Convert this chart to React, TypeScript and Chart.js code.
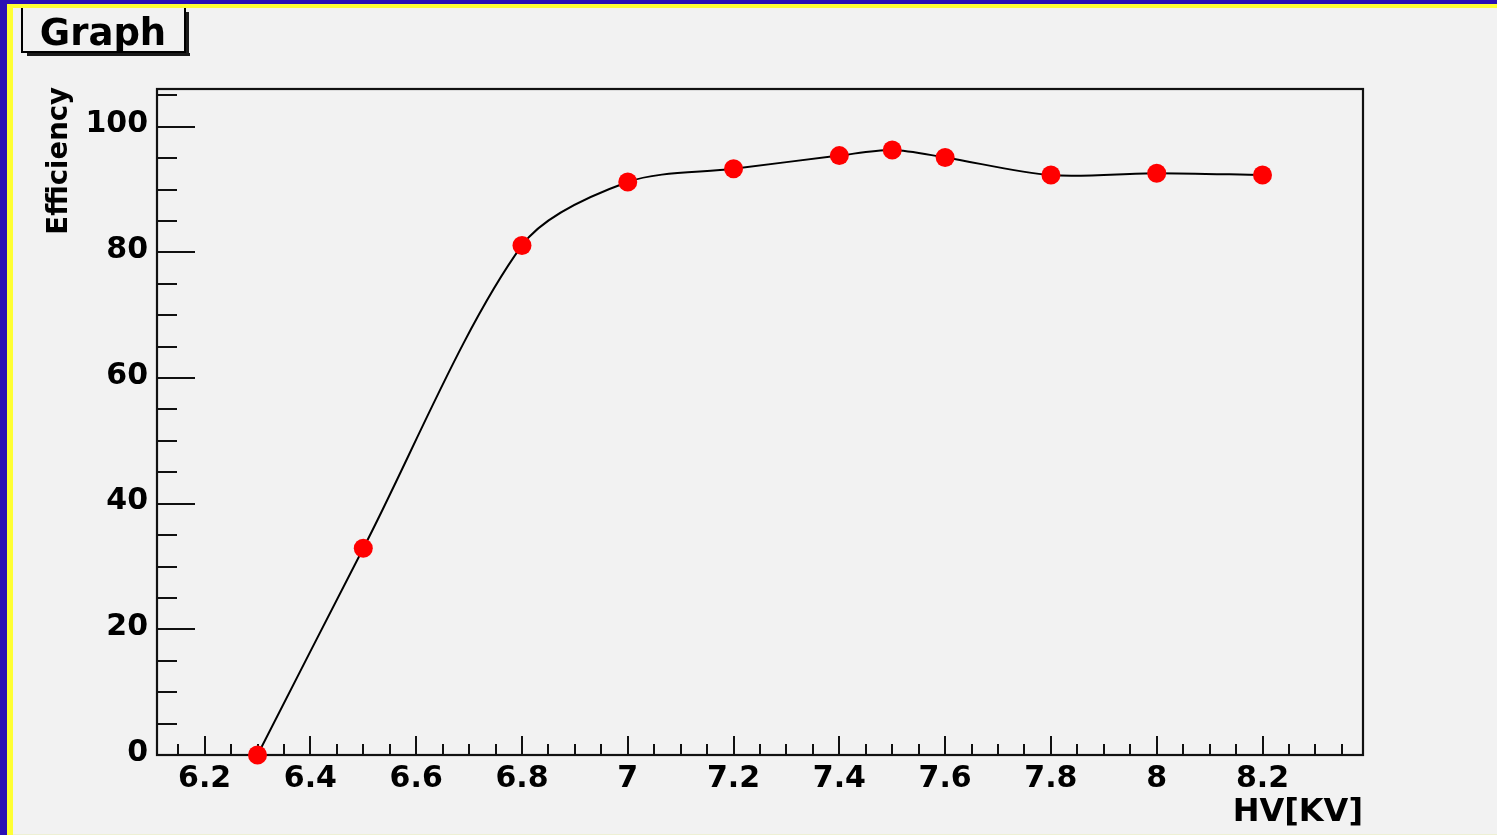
import React, { useEffect, useRef } from 'react';
import { Chart, registerables } from 'chart.js';

Chart.register(...registerables);

// ---- data ----
const HV = [6.3, 6.5, 6.8, 7.0, 7.2, 7.4, 7.5, 7.6, 7.8, 8.0, 8.2];
const EFFICIENCY = [0, 32.9, 81.1, 91.2, 93.3, 95.4, 96.3, 95.1, 92.3, 92.6, 92.3];

const X_TICKS = [6.2, 6.4, 6.6, 6.8, 7.0, 7.2, 7.4, 7.6, 7.8, 8.0, 8.2];
const Y_TICKS = [0, 20, 40, 60, 80, 100];
const X_MINOR_STEP = 0.05;
const Y_MINOR_STEP = 5;
const X_MIN = 6.11;
const X_MAX = 8.39;
const Y_MIN = 0;
const Y_MAX = 106;

const TITLE = 'Graph';
const X_TITLE = 'HV[KV]';
const Y_TITLE = 'Efficiency';

const FONT = 'DejaVu Sans';

const fmt = (v: number) => String(parseFloat(Number(v).toFixed(2)));

const rootFrame = {
  id: 'rootFrame',
  beforeDatasetsDraw(chart: any) {
    const { ctx, chartArea, scales } = chart;
    const { left, right, top, bottom } = chartArea;
    const x = scales.x;
    const y = scales.y;
    ctx.save();
    ctx.strokeStyle = '#111';
    ctx.lineWidth = 2;
    ctx.beginPath();
    // x ticks (inside, pointing up)
    for (let i = Math.ceil(X_MIN / X_MINOR_STEP - 1e-6); i * X_MINOR_STEP <= X_MAX + 1e-9; i++) {
      const v = i * X_MINOR_STEP;
      const major = X_TICKS.some((t) => Math.abs(t - v) < 1e-6);
      const px = Math.round(x.getPixelForValue(v));
      const len = major ? 19 : 11;
      ctx.moveTo(px, bottom);
      ctx.lineTo(px, bottom - len);
    }
    // y ticks (inside, pointing right)
    for (let i = Math.ceil(Y_MIN / Y_MINOR_STEP - 1e-6); i * Y_MINOR_STEP <= Y_MAX + 1e-9; i++) {
      const v = i * Y_MINOR_STEP;
      const major = Y_TICKS.some((t) => Math.abs(t - v) < 1e-6);
      const py = Math.round(y.getPixelForValue(v));
      const len = major ? 38 : 20;
      ctx.moveTo(left, py);
      ctx.lineTo(left + len, py);
    }
    ctx.stroke();
    ctx.lineWidth = 2.2;
    ctx.strokeRect(left, top, right - left, bottom - top);
    ctx.restore();
  },
  afterDraw(chart: any) {
    const { ctx, chartArea } = chart;
    const { right, top } = chartArea;
    ctx.save();
    ctx.fillStyle = '#000';
    // x-axis title
    ctx.font = `bold 32px "${FONT}"`;
    ctx.textAlign = 'right';
    ctx.textBaseline = 'alphabetic';
    ctx.fillText(X_TITLE, right, 821);
    // y-axis title
    ctx.save();
    ctx.translate(67, top - 2);
    ctx.rotate(-Math.PI / 2);
    ctx.font = `bold 27.5px "${FONT}"`;
    ctx.textAlign = 'right';
    ctx.textBaseline = 'alphabetic';
    ctx.fillText(Y_TITLE, 0, 0);
    ctx.restore();
    // title box with shadow
    ctx.fillStyle = '#1a1a1a';
    ctx.fillRect(27, 53, 163, 3);
    ctx.fillRect(186, 12, 3, 44);
    ctx.strokeStyle = '#000';
    ctx.lineWidth = 2;
    ctx.beginPath();
    ctx.moveTo(22, 8);
    ctx.lineTo(22, 52);
    ctx.lineTo(185, 52);
    ctx.lineTo(185, 8);
    ctx.stroke();
    ctx.fillStyle = '#000';
    ctx.font = `bold 37px "${FONT}"`;
    ctx.textAlign = 'center';
    ctx.textBaseline = 'alphabetic';
    ctx.fillText(TITLE, 103, 45);
    ctx.restore();
  },
};

export default function App() {
  const ref = useRef<HTMLCanvasElement>(null);
  useEffect(() => {
    document.body.style.margin = '0';
    const tickFont = { family: FONT, size: 30, weight: 'bold' as const };
    const chart = new Chart(ref.current as HTMLCanvasElement, {
      type: 'scatter',
      data: {
        datasets: [
          {
            data: HV.map((x, i) => ({ x, y: EFFICIENCY[i] })),
            showLine: true,
            tension: 0.3,
            borderColor: '#000',
            borderWidth: 2,
            pointRadius: 9.5,
            pointHoverRadius: 9.5,
            pointBackgroundColor: '#ff0000',
            pointBorderWidth: 0,
            clip: false as any,
          },
        ],
      },
      options: {
        responsive: false,
        animation: false,
        devicePixelRatio: 1,
        layout: { padding: { left: 47, top: 89, right: 134, bottom: 30 } },
        plugins: { legend: { display: false }, tooltip: { enabled: false } },
        scales: {
          x: {
            type: 'linear',
            min: X_MIN,
            max: X_MAX,
            afterFit: (s: any) => {
              s.height = 50;
            },
            afterBuildTicks: (s: any) => {
              s.ticks = X_TICKS.map((value) => ({ value }));
            },
            grid: { display: false },
            border: { display: false },
            ticks: {
              autoSkip: false,
              maxRotation: 0,
              padding: -2,
              color: '#000',
              font: tickFont,
              callback: (v: any) => fmt(v),
            },
          },
          y: {
            type: 'linear',
            min: Y_MIN,
            max: Y_MAX,
            afterFit: (s: any) => {
              s.width = 110;
            },
            afterBuildTicks: (s: any) => {
              s.ticks = Y_TICKS.map((value) => ({ value }));
            },
            grid: { display: false },
            border: { display: false },
            ticks: {
              autoSkip: false,
              padding: 1,
              labelOffset: -2,
              color: '#000',
              font: tickFont,
              callback: (v: any) => fmt(v),
            },
          },
        },
      },
      plugins: [rootFrame],
    } as any);
    return () => chart.destroy();
  }, []);

  return (
    <div style={{ position: 'relative', width: 1497, height: 835, background: '#2a0fb4', overflow: 'hidden' }}>
      <div style={{ position: 'absolute', left: 7, top: 4, right: 0, bottom: 0, background: '#ffff33' }} />
      <div style={{ position: 'absolute', left: 13, top: 8, right: 0, bottom: 1, background: '#f2f2f2' }} />
      <div style={{ position: 'absolute', left: 13, right: 0, bottom: 0, height: 1, background: '#eef0d4' }} />
      <canvas ref={ref} width={1497} height={835} style={{ position: 'absolute', left: 0, top: 0 }} />
    </div>
  );
}
